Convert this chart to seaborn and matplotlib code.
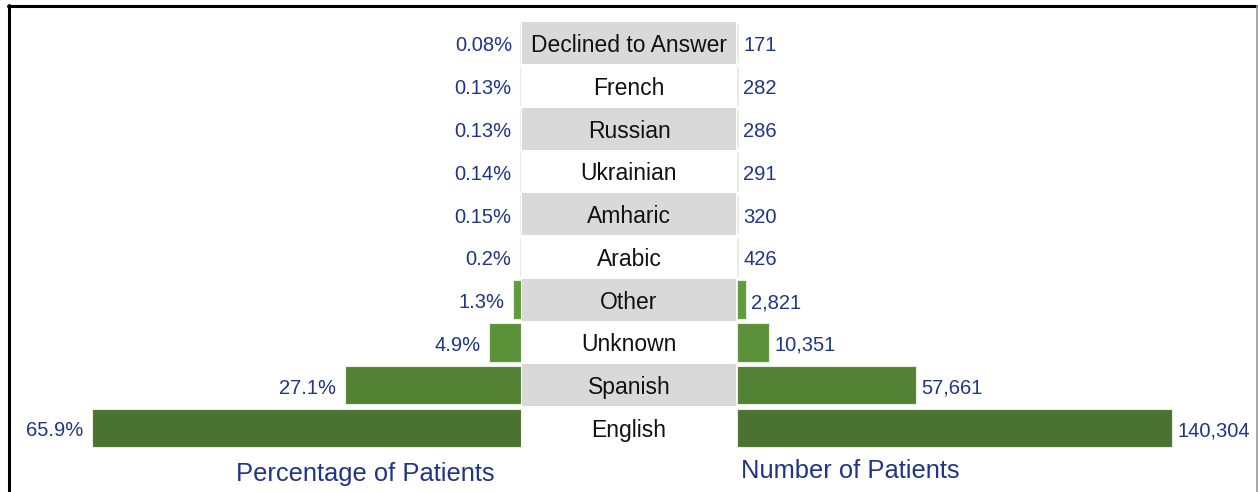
import pandas as pd
import matplotlib.pyplot as plt
import seaborn as sns
from matplotlib.lines import Line2D

languages = ["Declined to Answer", "French", "Russian", "Ukrainian", "Amharic",
             "Arabic", "Other", "Unknown", "Spanish", "English"]
pct_patients = [0.08, 0.13, 0.13, 0.14, 0.15, 0.2, 1.3, 4.9, 27.1, 65.9]
num_patients = [171, 282, 286, 291, 320, 426, 2821, 10351, 57661, 140304]
bar_colors = ["#A9D18E", "#A9D18E", "#A9D18E", "#A9D18E", "#A9D18E",
              "#8CC06A", "#5F9A3B", "#5B9239", "#548235", "#4A7230"]


def main():
    df = pd.DataFrame({"language": languages, "pct": pct_patients, "num": num_patients})
    palette = dict(zip(languages, bar_colors))

    sns.set_theme(style="white")
    plt.rcParams["font.family"] = ["Liberation Sans", "DejaVu Sans"]

    W, H = 1258, 492
    fig = plt.figure(figsize=(W / 100, H / 100), dpi=100)
    top_px, bot_px = 21.6, 449.4
    b = 1 - bot_px / H
    h = (bot_px - top_px) / H

    ax_l = fig.add_axes([30 / W, b, 491 / W, h])
    ax_c = fig.add_axes([522 / W, b, 214 / W, h])
    ax_r = fig.add_axes([737 / W, b, 513 / W, h])

    navy = "#1F3586"

    sns.barplot(data=df, y="language", x="pct", hue="language", palette=palette,
                orient="h", width=0.9, saturation=1, edgecolor="#e6eedf", linewidth=0.8,
                legend=False, ax=ax_l)
    ax_l.set_xlim(75.4, 0)
    for i, v in enumerate(pct_patients):
        ax_l.annotate(f"{v:g}%", (v, i), xytext=(-6, -0.7), textcoords="offset points",
                      ha="right", va="center_baseline", fontsize=14.5, color=navy)

    sns.barplot(data=df, y="language", x="num", hue="language", palette=palette,
                orient="h", width=0.9, saturation=1, edgecolor="#e6eedf", linewidth=0.8,
                legend=False, ax=ax_r)
    ax_r.set_xlim(0, 165460)
    for i, v in enumerate(num_patients):
        ax_r.annotate(f"{v:,}", (v, i), xytext=(4, -0.7), textcoords="offset points",
                      ha="left", va="center_baseline", fontsize=14.5, color=navy)

    # centre column with alternating grey rows
    ax_c.set_xlim(0, 1)
    for i, lang in enumerate(languages):
        if i % 2 == 0:
            ax_c.axhspan(i - 0.49, i + 0.49, color="#D9D9D9", lw=0)
        ax_c.text(0.5, i, lang, ha="center", va="center_baseline", fontsize=16.5,
                  color="#111111")

    for ax in (ax_l, ax_c, ax_r):
        ax.set_ylim(len(languages) - 0.5, -0.5)
        ax.set_xlabel("")
        ax.set_ylabel("")
        ax.set_xticks([])
        ax.set_yticks([])
        for s in ax.spines.values():
            s.set_visible(False)
        ax.patch.set_alpha(0)

    fig.text(365 / W, 1 - 474 / H, "Percentage of Patients", ha="center", va="center",
             fontsize=18.4, color=navy)
    fig.text(741 / W, 1 - 471 / H, "Number of Patients", ha="left", va="center",
             fontsize=18.4, color=navy)

    # frame
    fig.add_artist(Line2D([9 / W, 9 / W], [0, 1 - 5 / H], color="black", lw=2.2))
    fig.add_artist(Line2D([8 / W, 1256 / W], [1 - 6 / H, 1 - 6 / H], color="black", lw=2.2))
    fig.add_artist(Line2D([1256.5 / W, 1256.5 / W], [0, 1 - 6 / H], color="#999999", lw=1.2))

    fig.savefig("out.png", dpi=100)


if __name__ == "__main__":
    main()
